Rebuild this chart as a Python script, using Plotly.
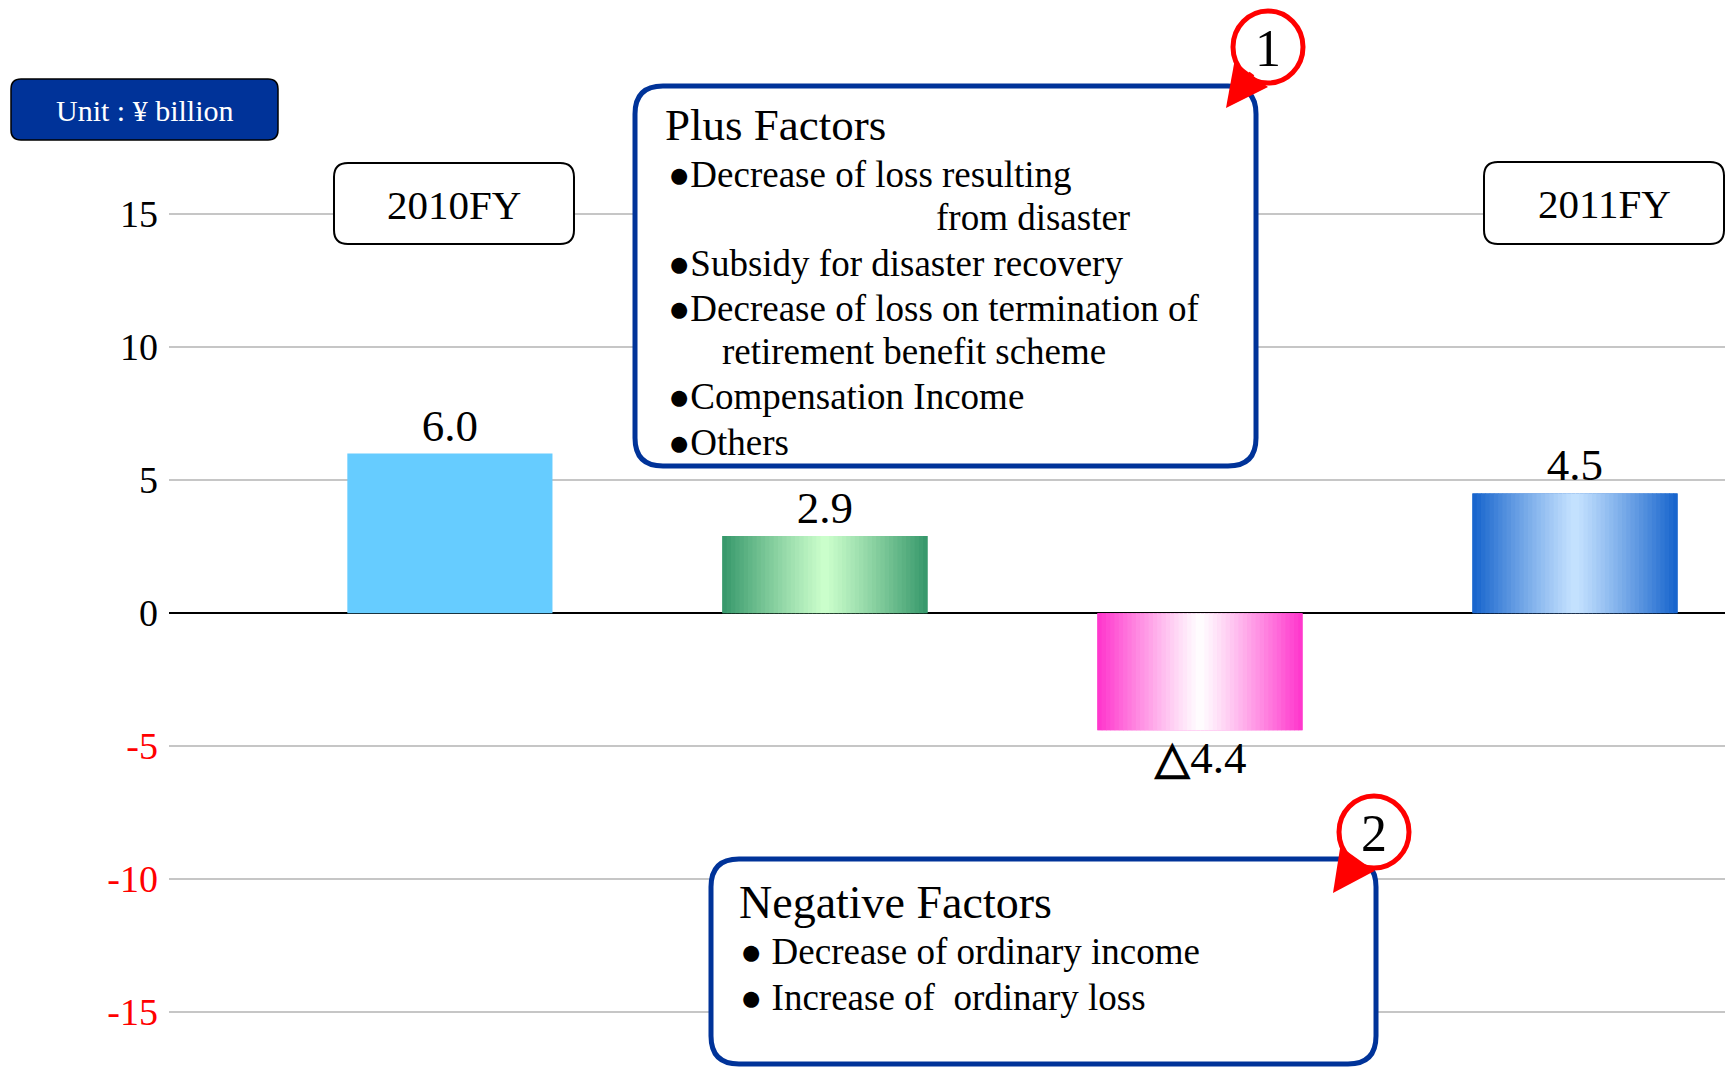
import plotly.graph_objects as go

# ---- data ----
CATEGORIES = ["2010FY", "Plus Factors", "Negative Factors", "2011FY"]
VALUES = [6.0, 2.9, -4.4, 4.5]
VALUE_LABELS = ["6.0", "2.9", "△4.4", "4.5"]

Y_TICKS = [-15, -10, -5, 0, 5, 10, 15]
Y_TICK_LABELS = ["-15", "-10", "-5", "0", "5", "10", "15"]

UNIT_LABEL = "Unit : ¥ billion"
YEAR_LABELS = ["2010FY", "2011FY"]

PLUS_TITLE = "Plus Factors"
PLUS_LINES = [
    "●Decrease of loss resulting",
    "from disaster",
    "●Subsidy for disaster recovery",
    "●Decrease of loss on termination of",
    "retirement benefit scheme",
    "●Compensation Income",
    "●Others",
]
NEG_TITLE = "Negative Factors"
NEG_LINES = [
    "● Decrease of ordinary income",
    "● Increase of  ordinary loss",
]

# ---- style ----
FONT = "Liberation Serif, Times New Roman, serif"
NAVY = "#003399"
BAR_EDGE = ["#66CCFF", "#35976A", "#FF33CC", "#1462CC"]
BAR_CENTER = [None, "#CCFFCC", "#FFFFFF", "#C6E3FF"]
BAR_W = 0.547
N_SLICES = 48

W, H = 1725, 1068
L, R, T, B = 169, 0, 0, 0
PW, PH = W - L - R, H - T - B


def px_x(px):
    return (px - L) / PW


def px_y(py):
    return 1 - (py - T) / PH


def rounded_box(x0, y0, x1, y1, r):
    pts = [
        ("M", [(x0 + r, y0)]),
        ("L", [(x1 - r, y0)]),
        ("Q", [(x1, y0), (x1, y0 + r)]),
        ("L", [(x1, y1 - r)]),
        ("Q", [(x1, y1), (x1 - r, y1)]),
        ("L", [(x0 + r, y1)]),
        ("Q", [(x0, y1), (x0, y1 - r)]),
        ("L", [(x0, y0 + r)]),
        ("Q", [(x0, y0), (x0 + r, y0)]),
    ]
    s = ""
    for cmd, ps in pts:
        s += cmd + " ".join(f"{px_x(a):.5f},{px_y(b):.5f}" for a, b in ps) + " "
    return s + "Z"


def mix(c1, c2, f):
    a = [int(c1[i:i + 2], 16) for i in (1, 3, 5)]
    b = [int(c2[i:i + 2], 16) for i in (1, 3, 5)]
    return "#" + "".join(f"{round(x + (y - x) * f):02x}" for x, y in zip(a, b))


fig = go.Figure()

# base bars (carry the value labels)
fig.add_trace(
    go.Bar(
        x=CATEGORIES,
        y=VALUES,
        width=BAR_W,
        marker=dict(color=BAR_EDGE, line=dict(width=0)),
        text=[s.replace("△", "<b>△</b>") for s in VALUE_LABELS],
        textposition="outside",
        textfont=dict(family=FONT, size=45, color="black"),
        cliponaxis=False,
        hoverinfo="skip",
    )
)

# horizontal gradient fills, drawn as thin slices of the same bars
for cat, val, edge, center in zip(CATEGORIES, VALUES, BAR_EDGE, BAR_CENTER):
    if center is None:
        continue
    step = BAR_W / N_SLICES
    offsets = [-BAR_W / 2 + k * step for k in range(N_SLICES)]
    widths = [step * 1.2 if k < N_SLICES - 1 else step for k in range(N_SLICES)]
    colors = []
    for k in range(N_SLICES):
        u = (k + 0.5) / N_SLICES
        t = abs(2 * u - 1)
        colors.append(mix(center, edge, t ** 1.1))
    fig.add_trace(
        go.Bar(
            x=[cat] * N_SLICES,
            y=[val] * N_SLICES,
            offset=offsets,
            width=widths,
            marker=dict(color=colors, line=dict(width=0)),
            hoverinfo="skip",
        )
    )

tick_text = [
    f"<span style='color:#FF0000'>{t}</span>" if v < 0 else t
    for v, t in zip(Y_TICKS, Y_TICK_LABELS)
]

fig.update_yaxes(
    range=[-17.1, 23.05],
    tickvals=Y_TICKS,
    ticktext=tick_text,
    tickfont=dict(family=FONT, size=38, color="black"),
    ticklabelstandoff=10,
    showgrid=True,
    gridcolor="#C6C6C6",
    gridwidth=2,
    zeroline=True,
    zerolinecolor="black",
    zerolinewidth=1.5,
    showline=False,
)
fig.update_xaxes(
    type="category",
    categoryorder="array",
    categoryarray=CATEGORIES,
    range=[-0.749, 3.4],
    showticklabels=False,
    showgrid=False,
    zeroline=False,
    showline=False,
)

shapes = []
annotations = []


def label(x, y, s, size, color="black", anchor="center"):
    return dict(x=px_x(x), y=px_y(y), xref="paper", yref="paper", text=s, showarrow=False,
                xanchor=anchor, yanchor="middle", font=dict(family=FONT, size=size, color=color))


# unit badge
shapes.append(dict(type="path", xref="paper", yref="paper", path=rounded_box(11, 79, 278, 140, 10),
                   fillcolor=NAVY, line=dict(color="black", width=1.5), layer="above"))
annotations.append(label(144.5, 110, UNIT_LABEL, 30, "white"))

# year boxes
for (x0, y0, x1, y1), txt in zip([(334, 163, 574, 244), (1484, 162, 1724, 244)], YEAR_LABELS):
    shapes.append(dict(type="path", xref="paper", yref="paper", path=rounded_box(x0, y0, x1, y1, 14),
                       fillcolor="white", line=dict(color="black", width=2), layer="above"))
    annotations.append(label((x0 + x1) / 2, (y0 + y1) / 2 + 1, txt, 41))

# factor boxes
shapes.append(dict(type="path", xref="paper", yref="paper", path=rounded_box(635, 86, 1256, 466, 28),
                   fillcolor="white", line=dict(color=NAVY, width=5), layer="above"))
shapes.append(dict(type="path", xref="paper", yref="paper", path=rounded_box(711, 859, 1376, 1064, 28),
                   fillcolor="white", line=dict(color=NAVY, width=5), layer="above"))

annotations.append(label(663, 125, PLUS_TITLE, 45, anchor="left"))
plus_x = [666, 934, 666, 666, 720, 666, 666]
plus_y = [174, 218, 263, 308, 352, 397, 442]
for x, y, s in zip(plus_x, plus_y, PLUS_LINES):
    annotations.append(label(x, y, s, 37, anchor="left"))

annotations.append(label(737, 902, NEG_TITLE, 46, anchor="left"))
for y, s in zip([951, 997], NEG_LINES):
    annotations.append(label(738, y, s, 37, anchor="left"))

# red numbered markers with arrows
for (cx, cy), num, (hx, hy), (ax, ay) in zip(
    [(1268, 47), (1374, 832)], ["1", "2"], [(1226, 108), (1333, 893)], [(27, -36), (25, -35)]
):
    annotations.append(dict(x=px_x(hx), y=px_y(hy), xref="paper", yref="paper", text="", showarrow=True,
                            ax=ax, ay=ay, arrowcolor="#FF0000", arrowwidth=6, arrowhead=2, arrowsize=1.4,
                            standoff=0))
    shapes.append(dict(type="circle", xref="paper", yref="paper",
                       x0=px_x(cx - 35), x1=px_x(cx + 35), y0=px_y(cy + 36), y1=px_y(cy - 36),
                       fillcolor="white", line=dict(color="#FF0000", width=5), layer="above"))
    annotations.append(label(cx, cy + 1, num, 52))

fig.update_layout(
    width=W,
    height=H,
    margin=dict(l=L, r=R, t=T, b=B, pad=0),
    barmode="overlay",
    showlegend=False,
    paper_bgcolor="white",
    plot_bgcolor="white",
    shapes=shapes,
    annotations=annotations,
)

fig.write_html(
    "out.html",
    config={"displayModeBar": False},
    post_script="document.body.style.margin='0px';",
)
